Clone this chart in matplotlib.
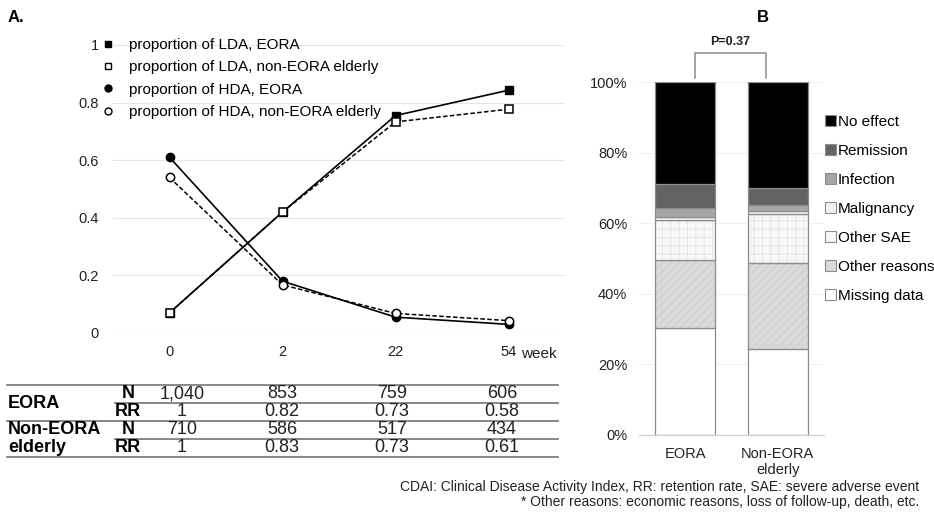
import numpy as np
import matplotlib
matplotlib.use("Agg")
import matplotlib.pyplot as plt
from matplotlib.lines import Line2D
from matplotlib.patches import Patch

plt.rcParams['font.family'] = ['Liberation Sans', 'DejaVu Sans']
plt.rcParams['hatch.linewidth'] = 0.6

# ---- data: panel A ----
weeks = ['0', '2', '22', '54']
lda_eora = [0.07, 0.42, 0.755, 0.843]
lda_non = [0.07, 0.42, 0.733, 0.777]
hda_eora = [0.61, 0.18, 0.055, 0.03]
hda_non = [0.54, 0.167, 0.068, 0.043]

# ---- data: table under panel A ----
table_groups = ['EORA', 'Non-EORA\nelderly']
eora_n = ['1,040', '853', '759', '606']
eora_rr = ['1', '0.82', '0.73', '0.58']
non_n = ['710', '586', '517', '434']
non_rr = ['1', '0.83', '0.73', '0.61']

# ---- data: panel B (bottom -> top) ----
groups = ['EORA', 'Non-EORA\nelderly']
reasons = ['Missing data', 'Other reasons', 'Other SAE', 'Malignancy',
           'Infection', 'Remission', 'No effect']
eora_pct = [30.2, 19.5, 11.2, 0.9, 2.6, 6.8, 28.8]
non_pct = [24.3, 24.3, 14.1, 0.8, 1.6, 5.0, 29.9]

W, H = 934, 513
fig = plt.figure(figsize=(W / 100, H / 100), dpi=100)


def fx(x):
    return x / W


def fy(y):
    return 1 - y / H


# ================= Panel A =================
axA = fig.add_axes([fx(113), fy(333), (565 - 113) / W, (333 - 45) / H])
xs = np.arange(len(weeks))
ms = 6
axA.plot(xs, lda_eora, '-', color='black', lw=1.2, marker='s', ms=ms, mfc='black', mec='black')
axA.plot(xs, lda_non, '--', color='black', lw=1.1, dashes=(3, 1.5), marker='s', ms=ms, mfc='white', mec='black', mew=1.1)
axA.plot(xs, hda_eora, '-', color='black', lw=1.2, marker='o', ms=ms, mfc='black', mec='black')
axA.plot(xs, hda_non, '--', color='black', lw=1.1, dashes=(3, 1.5), marker='o', ms=ms, mfc='white', mec='black', mew=1.1)

axA.set_xlim(-0.5, 3.5)
axA.set_ylim(0, 1)
axA.set_yticks([0, 0.2, 0.4, 0.6, 0.8, 1])
axA.set_yticklabels(['0', '0.2', '0.4', '0.6', '0.8', '1'])
axA.set_xticks(xs)
axA.set_xticklabels(weeks)
axA.tick_params(length=0, labelsize=10.5, colors='#222222')
axA.tick_params(axis='y', pad=10)
axA.tick_params(axis='x', pad=9)
axA.grid(axis='y', color='#e6e6e6', lw=0.8)
axA.set_axisbelow(True)
for s in axA.spines.values():
    s.set_visible(False)
axA.annotate('week', xy=(3, 0), xycoords=('data', 'axes fraction'),
             xytext=(9, -15), textcoords='offset points', ha='left', va='center',
             fontsize=11, color='#222222')

handles = [
    Line2D([], [], ls='none', marker='s', ms=5, mfc='black', mec='black'),
    Line2D([], [], ls='none', marker='s', ms=5, mfc='white', mec='black'),
    Line2D([], [], ls='none', marker='o', ms=5, mfc='black', mec='black'),
    Line2D([], [], ls='none', marker='o', ms=5, mfc='white', mec='black'),
]
labels = ['proportion of LDA, EORA', 'proportion of LDA, non-EORA elderly',
          'proportion of HDA, EORA', 'proportion of HDA, non-EORA elderly']
fig.legend(handles, labels, loc='upper left', bbox_to_anchor=(fx(100), fy(38)),
           frameon=False, fontsize=11, handlelength=1.0, handletextpad=0.9,
           labelspacing=0.55, borderaxespad=0, borderpad=0)

fig.text(fx(8), fy(17), 'A.', fontsize=12, fontweight='bold', va='center')

# ---- table ----
line_ys = [385, 403, 421, 439, 457]
full = [True, False, True, False, True]
for y, f in zip(line_ys, full):
    x0 = 7 if f else 115
    fig.add_artist(Line2D([fx(x0), fx(558)], [fy(y), fy(y)], color='#7f7f7f', lw=1.3))

row_y = [(line_ys[i] + line_ys[i + 1]) / 2 for i in range(4)]
rows = [eora_n, eora_rr, non_n, non_rr]
row_kind = ['N', 'RR', 'N', 'RR']
col_x = [182, 282, 392, 502]
fig.text(fx(8), fy((row_y[0] + row_y[1]) / 2), table_groups[0], fontsize=13,
         fontweight='bold', va='center', ha='left')
fig.text(fx(8), fy(row_y[2]), table_groups[1].split('\n')[0], fontsize=13,
         fontweight='bold', va='center', ha='left')
fig.text(fx(8), fy(row_y[3]), table_groups[1].split('\n')[1], fontsize=13,
         fontweight='bold', va='center', ha='left')
for r, vals in enumerate(rows):
    fig.text(fx(128), fy(row_y[r]), row_kind[r], fontsize=13, fontweight='bold',
             va='center', ha='center')
    for c, v in enumerate(vals):
        fig.text(fx(col_x[c]), fy(row_y[r]), v, fontsize=13, va='center', ha='center',
                 color='#222222')

# ================= Panel B =================
axB = fig.add_axes([fx(639), fy(435), (824 - 639) / W, (435 - 82) / H])
fills = ['#ffffff', '#d9d9d9', '#f7f7f7', '#f2f2f2', '#a6a6a6', '#636363', '#000000']
hatches = [None, '////', '++', None, None, None, None]
hatch_cols = ['#ffffff', '#cccccc', '#e4e4e4', '#f2f2f2', '#a6a6a6', '#636363', '#000000']
edge = '#8c8c8c'
bx = np.arange(len(groups))
data = np.array([eora_pct, non_pct]) / 100.0
bottom = np.zeros(len(groups))
for i, name in enumerate(reasons):
    axB.bar(bx, data[:, i], 0.65, bottom=bottom, color=fills[i],
            edgecolor=hatch_cols[i], hatch=hatches[i], lw=0)
    axB.bar(bx, data[:, i], 0.65, bottom=bottom, fill=False, edgecolor=edge, lw=0.9)
    bottom += data[:, i]

axB.set_xlim(-0.5, 1.5)
axB.set_ylim(0, 1)
axB.set_yticks(np.arange(0, 1.01, 0.2))
axB.set_yticklabels(['0%', '20%', '40%', '60%', '80%', '100%'])
axB.set_xticks(bx)
axB.set_xticklabels(groups, linespacing=1.15)
axB.tick_params(length=0, labelsize=10.5, colors='#222222')
axB.tick_params(axis='y', pad=8.5)
axB.tick_params(axis='x', pad=9)
axB.grid(axis='y', color='#f0f0f0', lw=0.8)
axB.set_axisbelow(True)
for k, s in axB.spines.items():
    s.set_visible(k == 'bottom')
axB.spines['bottom'].set_color('#d0d0d0')

# significance bracket
bl, br, ylo, yhi = 0.11, 0.87, 1.011, 1.082
axB.plot([bl, bl, br, br], [ylo, yhi, yhi, ylo], color='#8c8c8c', lw=1.1, clip_on=False)
axB.text((bl + br) / 2, 1.113, 'P=0.37', ha='center', va='center', fontsize=9,
         fontweight='bold', color='#222222')

leg_handles = [Patch(facecolor=fills[i], edgecolor=edge, lw=0.8) for i in range(len(reasons))][::-1]
fig.legend(leg_handles, reasons[::-1], loc='upper left', bbox_to_anchor=(fx(825), fy(115)),
           frameon=False, fontsize=11, handlelength=0.7, handleheight=0.7,
           handletextpad=0.15, labelspacing=0.98, borderaxespad=0, borderpad=0)

fig.text(fx(757), fy(17), 'B', fontsize=12, fontweight='bold', va='center')

fig.text(fx(919), fy(487), 'CDAI: Clinical Disease Activity Index, RR: retention rate, SAE: severe adverse event',
         ha='right', va='center', fontsize=10, color='#222222')
fig.text(fx(919), fy(502), '* Other reasons: economic reasons, loss of follow-up, death, etc.',
         ha='right', va='center', fontsize=10, color='#222222')

fig.savefig('out.png', dpi=100)
